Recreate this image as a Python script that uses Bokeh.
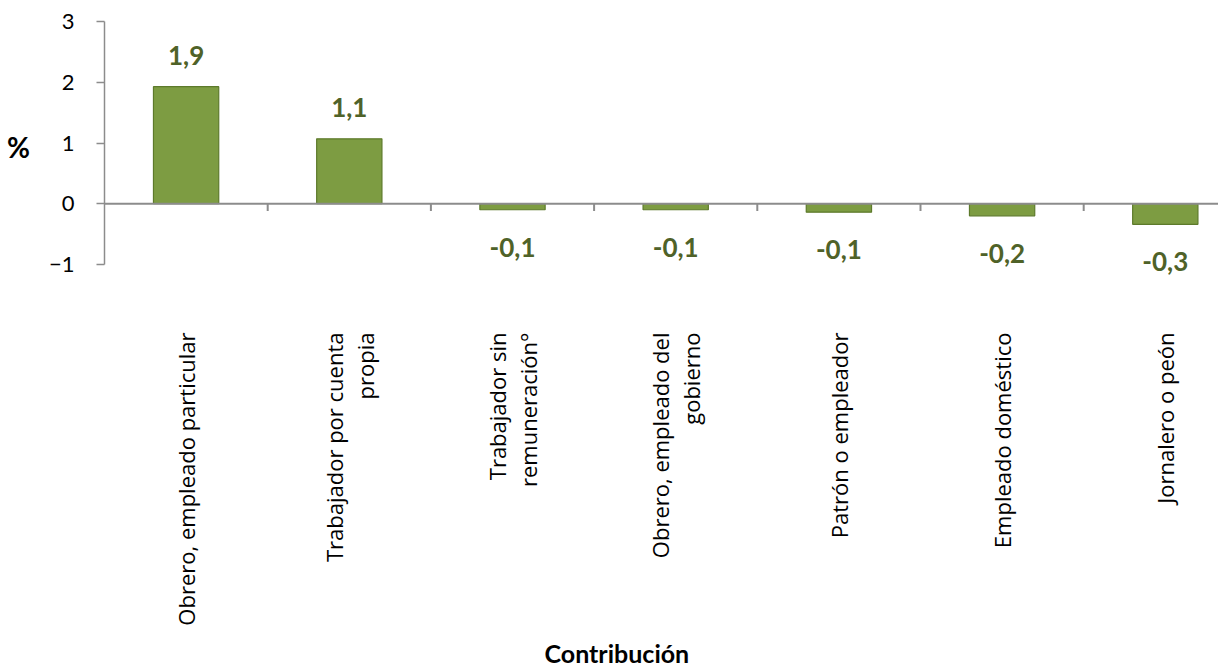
import math
from bokeh.plotting import figure
from bokeh.models import (Range1d, FixedTicker, ColumnDataSource, LabelSet, Span, Title)
from bokeh.core.properties import value
from bokeh.embed import file_html
from bokeh.resources import INLINE

categories = [
    "Obrero, empleado particular",
    "Trabajador por cuenta\npropia",
    "Trabajador sin\nremuneración°",
    "Obrero, empleado del\ngobierno",
    "Patrón o empleador",
    "Empleado doméstico",
    "Jornalero o peón",
]
values = [1.93, 1.07, -0.10, -0.10, -0.14, -0.20, -0.34]
y_ticks = [-1, 0, 1, 2, 3]

x_pos = [i + 0.5 for i in range(len(categories))]
labels = [f"{v:.1f}".replace(".", ",") for v in values]
label_y = [v + 0.52 if v >= 0 else v - 0.62 for v in values]
bounds = list(range(1, len(categories)))

p = figure(frame_width=1114, frame_height=265, output_backend="svg",
           toolbar_location=None, x_range=Range1d(0, 6.826), y_range=Range1d(-1.25, 3.12),
           min_border_left=104, min_border_right=0, min_border_top=14, min_border_bottom=380)
p.outline_line_color = None
p.grid.visible = False

src = ColumnDataSource(dict(x=x_pos, top=values, lab=labels, ly=label_y))
p.vbar(x="x", top="top", bottom=0, width=0.40, source=src,
       fill_color="#7d9c42", line_color="#5d7a2b", line_width=1.2)

p.add_layout(Span(location=0, dimension="width", line_color="#8c8c8c", line_width=2))
p.segment(x0=bounds, x1=bounds, y0=[0] * len(bounds), y1=[-0.12] * len(bounds),
          line_color="#8c8c8c", line_width=2)

p.add_layout(LabelSet(x="x", y="ly", text="lab", source=src, text_align="center",
                      text_baseline="middle", text_font=value("Lato"), text_font_style="bold",
                      text_font_size="26px", text_color="#4f6228"))

# y axis
ya = p.yaxis[0]
ya.ticker = FixedTicker(ticks=y_ticks)
ya.bounds = (-1, 3)
ya.axis_line_color = "#8c8c8c"
ya.axis_line_width = 1.5
ya.major_tick_line_color = "#8c8c8c"
ya.major_tick_line_width = 1.5
ya.major_tick_out = 8
ya.major_tick_in = 0
ya.minor_tick_line_color = None
ya.major_label_text_font = "Lato"
ya.major_label_text_font_size = "22px"
ya.major_label_text_color = "black"
ya.major_label_standoff = 22
ya.axis_label = "%"
ya.axis_label_orientation = "horizontal"
ya.axis_label_standoff = 16
ya.axis_label_text_font = "Lato"
ya.axis_label_text_font_style = "bold"
ya.axis_label_text_font_size = "28px"
ya.axis_label_text_color = "black"

# x axis: category labels only
xa = p.xaxis[0]
xa.ticker = FixedTicker(ticks=x_pos)
xa.major_label_overrides = {x: c for x, c in zip(x_pos, categories)}
xa.major_label_orientation = math.pi / 2
xa.axis_line_color = None
xa.major_tick_line_color = None
xa.minor_tick_line_color = None
xa.major_tick_out = 0
xa.major_tick_in = 0
xa.major_label_standoff = 53
xa.major_label_text_font = "Open Sans"
xa.major_label_text_font_size = "22px"
xa.major_label_text_color = "black"
xa.major_label_text_line_height = 1.05

p.add_layout(Title(text="Contribución", align="left", offset=440,
                   text_font="Lato", text_font_style="bold", text_font_size="25px",
                   text_color="black", standoff=15), "below")

open("out.html", "w").write(file_html(p, INLINE))
